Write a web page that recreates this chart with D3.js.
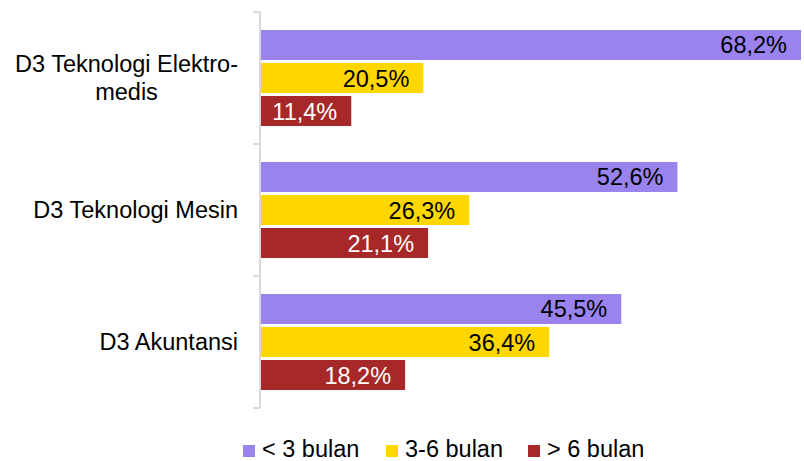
<!DOCTYPE html>
<html>
  <head>
    <meta charset="utf-8">
    <title></title>
    <style>
      body { margin: 0; background: #fff; }
      svg text { font-family: "Liberation Sans", Arial, sans-serif; }
    </style>
    <script src="https://cdnjs.cloudflare.com/ajax/libs/d3/7.8.5/d3.min.js"></script>
  </head>
  <body>
    <svg id="chart" width="804" height="461"></svg>
    <script>
var categories = ["D3 Teknologi Elektro-\nmedis", "D3 Teknologi Mesin", "D3 Akuntansi"];
var series = ["< 3 bulan", "3-6 bulan", "> 6 bulan"];
var colors = ["#9b83ef", "#fed700", "#a62828"];
var labelColors = ["#000", "#000", "#fff"];
var values = [
  [68.2, 20.5, 11.4],
  [52.6, 26.3, 21.1],
  [45.5, 36.4, 18.2]
];

var fmt = function(v){ return v.toFixed(1).replace(".", ",") + "%"; };
var fs = 23.5;

var svg = d3.select("#chart");

var y = d3.scaleBand().domain(categories).range([12, 408]).padding(0);
var yInner = d3.scaleBand().domain(series).range([0, y.bandwidth()])
  .paddingInner(0.0909).paddingOuter(0.545);
var x = d3.scaleLinear().domain([0, 68.2]).range([261, 801]);

// axis line + ticks at group boundaries
var axisX = 260;
svg.append("line")
  .attr("x1", axisX).attr("x2", axisX)
  .attr("y1", y.range()[0]).attr("y2", y.range()[1])
  .attr("stroke", "#d9d9d9").attr("stroke-width", 2);
var bounds = categories.map(function(c){ return y(c); }).concat([y.range()[1]]);
svg.selectAll(".tick").data(bounds).enter().append("line")
  .attr("x1", 253).attr("x2", axisX)
  .attr("y1", function(d){ return d; }).attr("y2", function(d){ return d; })
  .attr("stroke", "#d9d9d9").attr("stroke-width", 2);

// groups
var g = svg.selectAll(".group").data(categories).enter().append("g")
  .attr("transform", function(c){ return "translate(0," + y(c) + ")"; });

g.selectAll("rect").data(function(c, i){
    return series.map(function(s, j){ return { s: s, j: j, v: values[i][j] }; });
  }).enter().append("rect")
  .attr("x", x(0))
  .attr("y", function(d){ return yInner(d.s); })
  .attr("width", function(d){ return x(d.v) - x(0); })
  .attr("height", yInner.bandwidth())
  .attr("fill", function(d){ return colors[d.j]; });

g.selectAll(".val").data(function(c, i){
    return series.map(function(s, j){ return { s: s, j: j, v: values[i][j] }; });
  }).enter().append("text")
  .attr("x", function(d){ return x(d.v) - 14; })
  .attr("y", function(d){ return yInner(d.s) + yInner.bandwidth() / 2 + 8.5; })
  .attr("text-anchor", "end")
  .attr("font-size", fs)
  .attr("fill", function(d){ return labelColors[d.j]; })
  .text(function(d){ return fmt(d.v); });

// category labels
var labelRight = 238;
g.each(function(c){
  var lines = c.split("\n");
  var t = d3.select(this).append("text")
    .attr("font-size", fs).attr("fill", "#000").attr("text-anchor", "middle");
  var mid = y.bandwidth() / 2;
  var first = mid + 8 - (lines.length - 1) * 14;
  lines.forEach(function(l, k){
    t.append("tspan").attr("y", first + k * 28).text(l);
  });
  var w = 0;
  t.selectAll("tspan").each(function(){ w = Math.max(w, this.getComputedTextLength()); });
  t.selectAll("tspan").attr("x", labelRight - w / 2);
});

// legend
var legendX = [243, 386, 528];
var lg = svg.selectAll(".legend").data(series).enter().append("g")
  .attr("transform", function(d, i){ return "translate(" + legendX[i] + ",445)"; });
lg.append("rect").attr("width", 12).attr("height", 12)
  .attr("fill", function(d, i){ return colors[i]; });
lg.append("text").attr("x", 19).attr("y", 12).attr("font-size", fs).attr("fill", "#000")
  .text(function(d){ return d; });
    </script>
  </body>
</html>
